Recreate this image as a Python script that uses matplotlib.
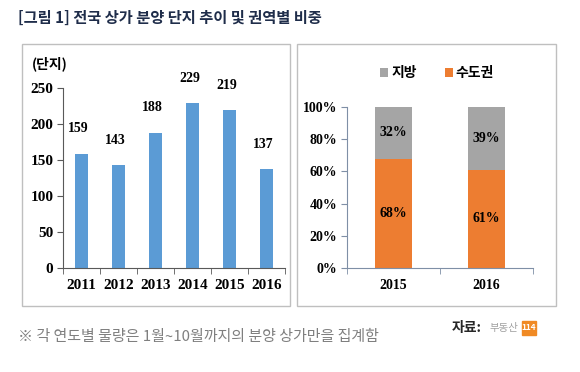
import numpy as np
import matplotlib
matplotlib.use("Agg")
import matplotlib.pyplot as plt
from matplotlib.patches import Rectangle

plt.rcParams['font.family'] = ['Noto Sans CJK KR', 'DejaVu Sans']

W, H = 580, 372

title = "[그림 1] 전국 상가 분양 단지 추이 및 권역별 비중"
note = "※ 각 연도별 물량은 1월~10월까지의 분양 상가만을 집계함"

years = ["2011", "2012", "2013", "2014", "2015", "2016"]
counts = [159, 143, 188, 229, 219, 137]

share_years = ["2015", "2016"]
metro = [68, 61]   # 수도권
local = [32, 39]   # 지방

BLUE = "#5B9BD5"
ORANGE = "#ED7D31"
GRAY = "#A5A5A5"
NUM_FONT = "Liberation Serif"


def box(x0, y0, x1, y1):
    return [x0 / W, 1 - y1 / H, (x1 - x0) / W, (y1 - y0) / H]


fig = plt.figure(figsize=(W / 100, H / 100), dpi=100)
fig.patch.set_facecolor("white")

# panel frames
for x0, x1 in [(22, 290), (297, 556)]:
    fig.patches.append(Rectangle((x0 / W, 1 - 306 / H), (x1 - x0) / W, (306 - 44) / H,
                                 transform=fig.transFigure, fill=False,
                                 edgecolor="#BFBFBF", linewidth=1.0))

fig.text(18 / W, 1 - 18 / H, title, fontsize=11, fontweight="bold",
         color="#1F2D4A", va="center", ha="left")

# left: bar chart of counts
ax1 = fig.add_axes(box(63, 88, 285, 268))
x = np.arange(len(years))
ax1.bar(x, counts, width=0.36, color=BLUE)
ax1.set_xlim(-0.5, len(years) - 0.5)
ax1.set_ylim(0, 250)
ax1.set_yticks(np.arange(0, 251, 50))
ax1.set_xticks(x)
ax1.set_xticklabels(years)
ax1.set_xticks(np.arange(-0.5, len(years)), minor=True)
ax1.tick_params(axis="x", which="major", length=0, pad=8)
ax1.tick_params(axis="x", which="minor", length=4, direction="out", color="#595959")
ax1.tick_params(axis="y", length=4, direction="out", color="#595959", pad=3)
for lab in ax1.get_xticklabels() + ax1.get_yticklabels():
    lab.set_fontfamily(NUM_FONT)
    lab.set_fontweight("bold")
    lab.set_fontsize(11)
for s in ["top", "right"]:
    ax1.spines[s].set_visible(False)
for s in ["left", "bottom"]:
    ax1.spines[s].set_color("#595959")
for xi, v in zip(x, counts):
    ax1.annotate(str(v), (xi, v), xytext=(-2, 18), textcoords="offset points",
                 ha="center", va="center", fontfamily=NUM_FONT,
                 fontweight="bold", fontsize=10)
fig.text(32 / W, 1 - 64 / H, "(단지)", fontsize=10, fontweight="bold",
         ha="left", va="center")

# right: stacked share
ax2 = fig.add_axes(box(347, 107, 533, 268))
x2 = np.arange(len(share_years))
m = np.array(metro) / 100
l = np.array(local) / 100
ax2.bar(x2, m, width=0.4, color=ORANGE, label="수도권")
ax2.bar(x2, l, bottom=m, width=0.4, color=GRAY, label="지방")
ax2.set_xlim(-0.5, len(share_years) - 0.5)
ax2.set_ylim(0, 1)
ax2.set_yticks(np.linspace(0, 1, 6))
ax2.set_yticklabels([f"{int(t)}%" for t in np.linspace(0, 100, 6)])
ax2.set_xticks(x2)
ax2.set_xticklabels(share_years)
ax2.set_xticks(np.arange(-0.5, len(share_years)), minor=True)
ax2.tick_params(axis="x", which="major", length=0, pad=8)
ax2.tick_params(axis="x", which="minor", length=4, direction="out", color="#7F8FA6")
ax2.tick_params(axis="y", length=4, direction="out", color="#7F8FA6", pad=3)
for lab in ax2.get_xticklabels() + ax2.get_yticklabels():
    lab.set_fontfamily(NUM_FONT)
    lab.set_fontweight("bold")
    lab.set_fontsize(10)
for s in ["top", "right"]:
    ax2.spines[s].set_visible(False)
for s in ["left", "bottom"]:
    ax2.spines[s].set_color("#7F8FA6")
for xi, a, b in zip(x2, m, l):
    ax2.text(xi, a / 2, f"{int(round(a * 100))}%", ha="center", va="center",
             fontfamily=NUM_FONT, fontweight="bold", fontsize=10)
    ax2.text(xi, a + b / 2, f"{int(round(b * 100))}%", ha="center", va="center",
             fontfamily=NUM_FONT, fontweight="bold", fontsize=10)

handles, labels = ax2.get_legend_handles_labels()
leg = fig.legend(handles[::-1], labels[::-1], loc="center",
                 bbox_to_anchor=(437 / W, 1 - 73 / H), ncol=2, frameon=False,
                 handlelength=0.6, handleheight=0.6, handletextpad=0.2,
                 columnspacing=2.0, prop={"size": 10, "weight": "bold"})

# footnote and source
fig.text(18 / W, 1 - 337 / H, note, fontsize=10.8, color="#7F7F7F",
         ha="left", va="center")
fig.text(452 / W, 1 - 328 / H, "자료:", fontsize=10, fontweight="bold",
         color="#262626", ha="left", va="center")
fig.text(489 / W, 1 - 328 / H, "부동산", fontsize=7.5, color="#A0A0A0",
         ha="left", va="center")
fig.patches.append(Rectangle((522 / W, 1 - 335 / H), 14 / W, 14 / H,
                             transform=fig.transFigure, color="#F08A24"))
fig.text(529 / W, 1 - 328 / H, "114", fontsize=6, fontweight="bold",
         color="white", ha="center", va="center")

fig.savefig("out.png", dpi=100, facecolor="white")
